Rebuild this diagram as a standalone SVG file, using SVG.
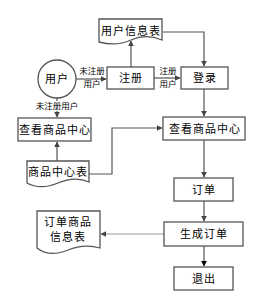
<svg xmlns="http://www.w3.org/2000/svg" width="262" height="295" viewBox="0 0 262 295">
<style>
.box{fill:#fff;stroke:#555;stroke-width:1.3}
.t{font-family:"Noto Sans CJK SC","Liberation Sans",sans-serif;font-size:11px;fill:#000;text-anchor:middle;letter-spacing:1px}
.s{font-family:"Noto Sans CJK SC","Liberation Sans",sans-serif;font-size:8.5px;fill:#000;text-anchor:middle}
.c{fill:none;stroke:#555;stroke-width:1.2}
.g{fill:none;stroke:#999;stroke-width:1.2}
</style>
<defs>
<marker id="a" viewBox="0 0 10 10" refX="9" refY="5" markerWidth="5" markerHeight="5" orient="auto"><path d="M0,0 L10,5 L0,10 Z" fill="#444"/></marker>
<marker id="b" viewBox="0 0 10 10" refX="9" refY="5" markerWidth="5" markerHeight="5" orient="auto"><path d="M0,0 L10,5 L0,10 Z" fill="#000"/></marker>
</defs>
<g id="connectors">
<path class="c" d="M131,67 V41" marker-end="url(#a)"/>
<path class="c" d="M163,32 H204 V66" marker-end="url(#a)"/>
<path class="c" d="M154,78 H180" marker-end="url(#a)"/>
<path class="c" d="M76,79 H106" marker-end="url(#a)"/>
<path class="c" d="M57,98 V117" marker-end="url(#a)"/>
<path class="c" d="M57,161 V142" marker-end="url(#a)"/>
<path class="c" d="M89,174 H112 V128 H162" marker-end="url(#a)"/>
<path class="c" d="M204,89 V116" marker-end="url(#a)"/>
<path class="c" d="M204,140 V177" marker-end="url(#a)"/>
<path class="c" d="M204,201 V221" marker-end="url(#a)"/>
<path class="c" d="M204,246 V266" stroke="#000" marker-end="url(#b)"/>
<path class="g" d="M164,234 H101" marker-end="url(#a)"/>
</g>
<g id="label1"><text class="s" x="92" y="74">未注册</text><text class="s" x="92" y="87">用户</text></g>
<g id="label2"><text class="s" x="168" y="74">注册</text><text class="s" x="168" y="87">用户</text></g>
<g id="label3"><rect x="35" y="101" width="44" height="10" fill="#fff"/><text class="s" x="57" y="109">未注册用户</text></g>
<g id="userinfo"><path class="box" d="M99,19 H162 V40 C150,35 140,36 131,40 C120,45 110,45 99,42 Z"/><text class="t" x="131" y="35">用户信息表</text></g>
<g id="user"><circle class="box" cx="57" cy="79" r="19"/><text class="t" x="57" y="83">用户</text></g>
<g id="register"><rect class="box" x="107" y="67" width="47" height="22"/><text class="t" x="131" y="82">注册</text></g>
<g id="login"><rect class="box" x="181" y="67" width="47" height="22"/><text class="t" x="205" y="82">登录</text></g>
<g id="view1"><rect class="box" x="18" y="118" width="73" height="23"/><text class="t" x="55" y="134">查看商品中心</text></g>
<g id="goodsdoc"><path class="box" d="M27,161 H89 V182 C80,178 70,178 58,183 C46,188 36,188 27,183 Z"/><text class="t" x="58" y="176">商品中心表</text></g>
<g id="view2"><rect class="box" x="163" y="117" width="82" height="23"/><text class="t" x="205" y="133">查看商品中心</text></g>
<g id="order"><rect class="box" x="174" y="178" width="59" height="23"/><text class="t" x="204" y="194">订单</text></g>
<g id="genorder"><rect class="box" x="164" y="222" width="79" height="24"/><text class="t" x="204" y="238">生成订单</text></g>
<g id="exit"><rect class="box" x="174" y="267" width="59" height="23"/><text class="t" x="204" y="283">退出</text></g>
<g id="orderdoc"><path class="box" d="M37,211 H100 V248 C90,245 80,245 68,250 C56,255 46,255 37,248 Z"/><text class="t" x="68" y="226">订单商品</text><text class="t" x="68" y="241">信息表</text></g>
</svg>
